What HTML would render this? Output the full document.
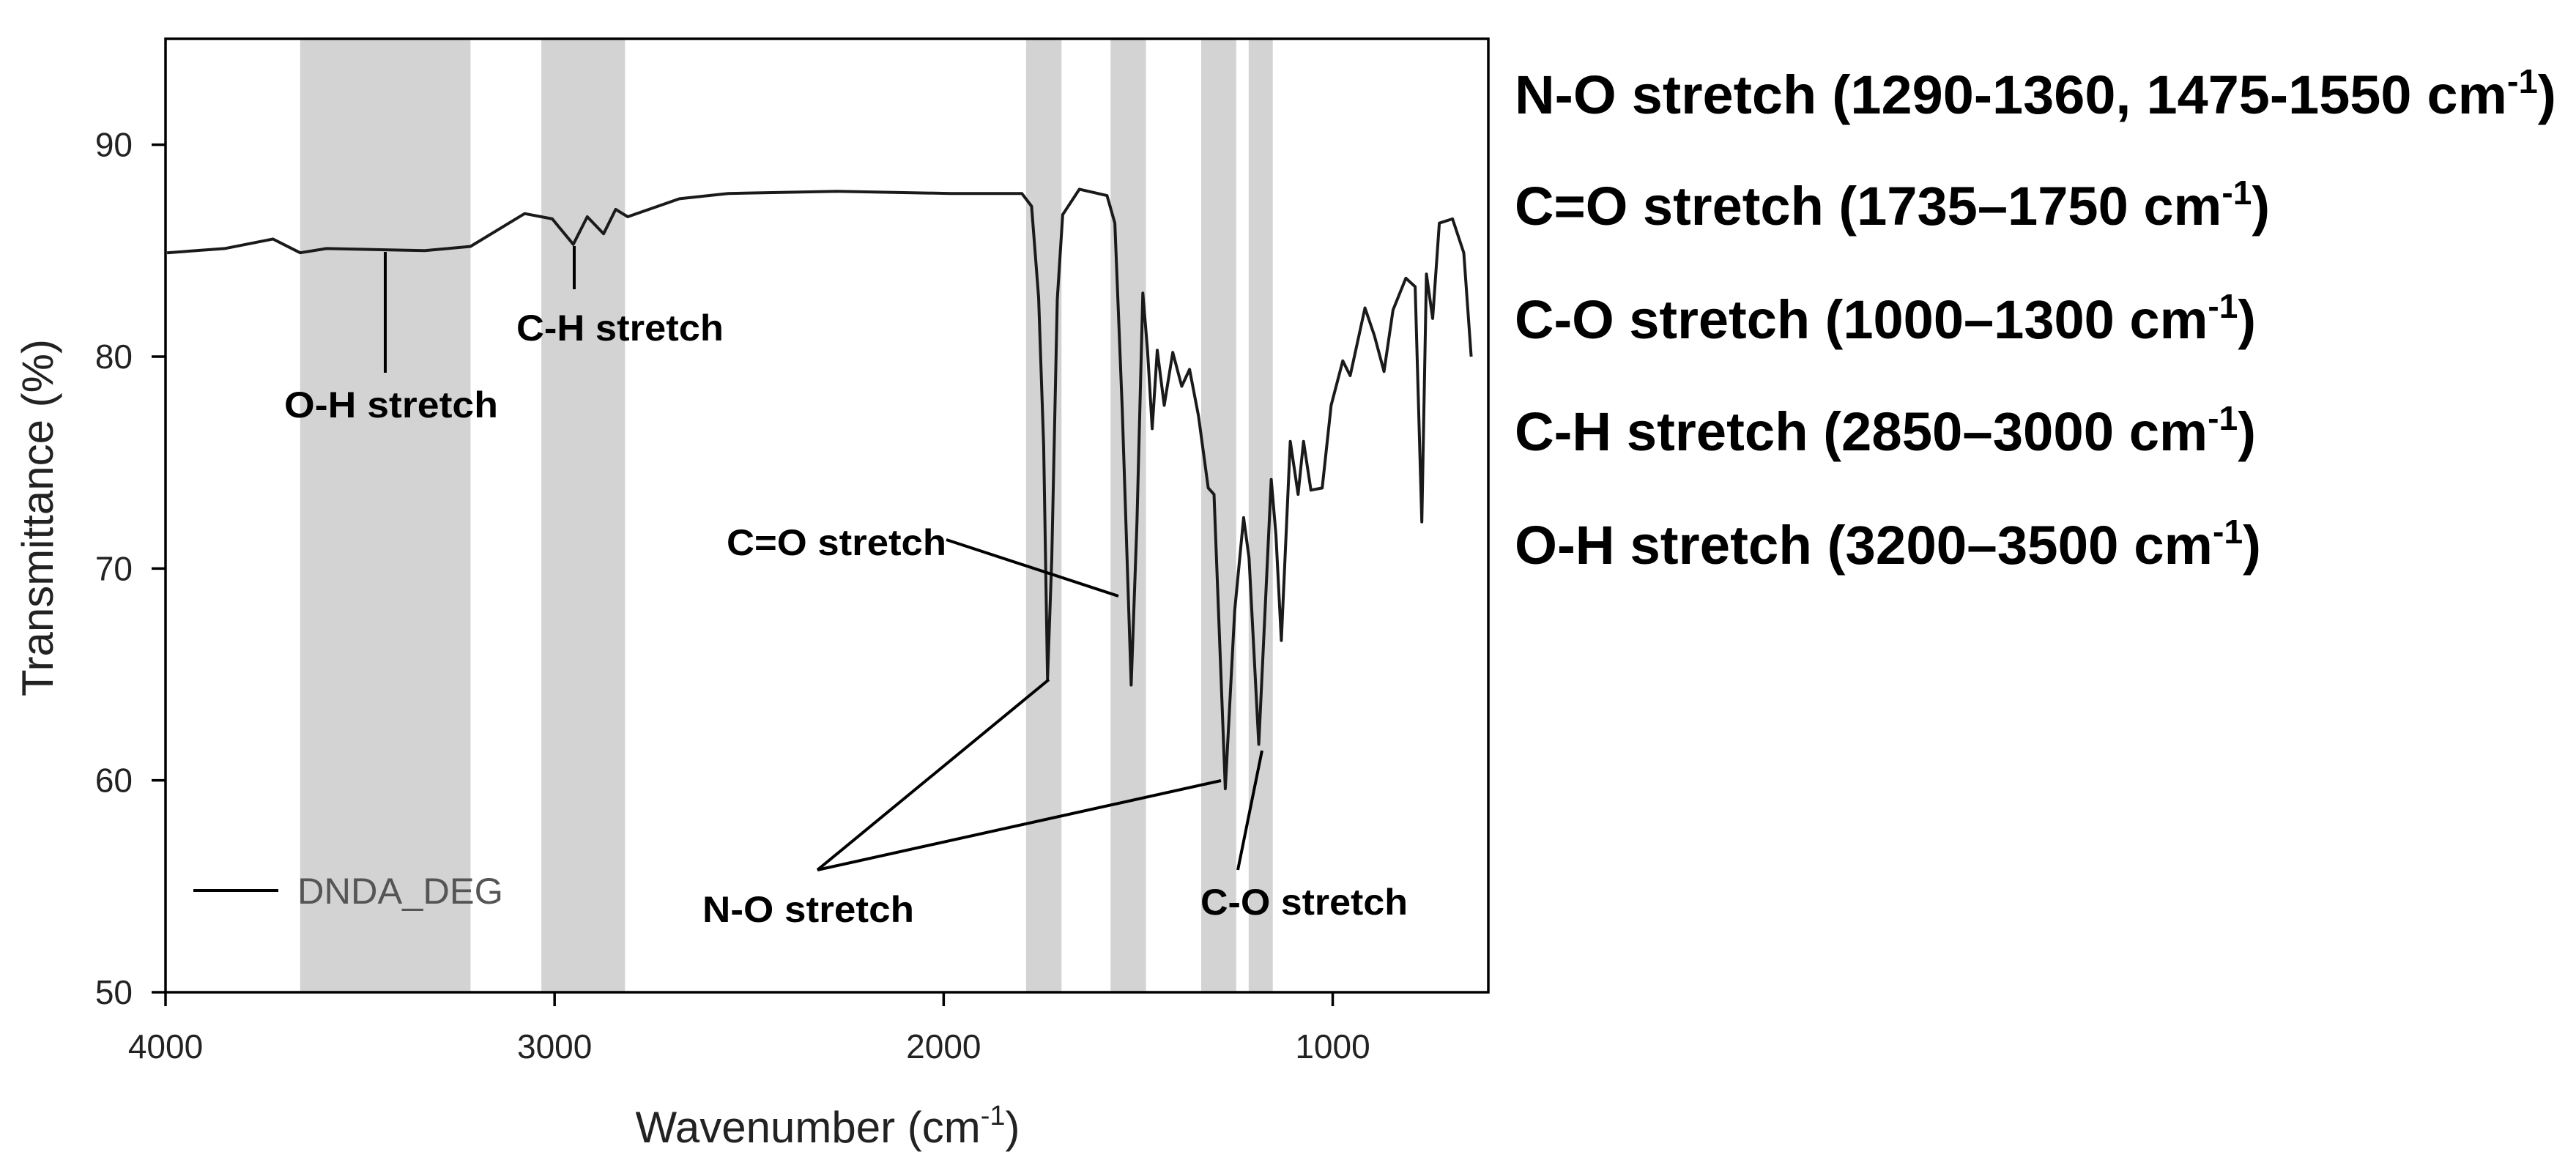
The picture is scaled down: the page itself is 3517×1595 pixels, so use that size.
<!DOCTYPE html>
<html><head><meta charset="utf-8"><style>
html,body{margin:0;padding:0;background:#fff;}
svg{display:block;}
text{font-family:"Liberation Sans",sans-serif;}
</style></head><body>
<svg id="chart" width="3517" height="1595" viewBox="0 0 3517 1595" xmlns="http://www.w3.org/2000/svg">
<g id="bands"></g>
<g id="spectrum"></g>
<g id="axes"></g>
<g id="annot">
  <line x1="526" y1="344" x2="526" y2="509" stroke="#000" stroke-width="4"/>
  <text x="388" y="570" font-size="50" font-weight="bold" textLength="292" lengthAdjust="spacingAndGlyphs">O-H stretch</text>
  <line x1="784" y1="336" x2="784" y2="395" stroke="#000" stroke-width="4"/>
  <text x="705" y="465" font-size="50" font-weight="bold" textLength="283" lengthAdjust="spacingAndGlyphs">C-H stretch</text>
  <text x="992" y="758" font-size="50" font-weight="bold" textLength="300" lengthAdjust="spacingAndGlyphs">C=O stretch</text>
  <line x1="1292" y1="737" x2="1527" y2="814" stroke="#000" stroke-width="4"/>
  <text x="959" y="1259" font-size="50" font-weight="bold" textLength="289" lengthAdjust="spacingAndGlyphs">N-O stretch</text>
  <line x1="1116" y1="1188" x2="1432" y2="928" stroke="#000" stroke-width="4"/>
  <line x1="1116" y1="1188" x2="1667" y2="1066" stroke="#000" stroke-width="4"/>
  <text x="1639" y="1249" font-size="50" font-weight="bold" textLength="283" lengthAdjust="spacingAndGlyphs">C-O stretch</text>
  <line x1="1690" y1="1188" x2="1723" y2="1025" stroke="#000" stroke-width="4"/>
</g>
<g>
  <line x1="264" y1="1216" x2="380" y2="1216" stroke="#000" stroke-width="4"/>
  <text x="406" y="1234" font-size="50" fill="#555" textLength="281" lengthAdjust="spacingAndGlyphs">DNDA_DEG</text>
</g>
<g font-weight="bold" font-size="74">
  <text x="2068" y="155" textLength="1422" lengthAdjust="spacingAndGlyphs">N-O stretch (1290-1360,  1475-1550  cm<tspan font-size="46" dy="-28">-1</tspan><tspan dy="28">)</tspan></text>
  <text x="2068" y="307" textLength="1031" lengthAdjust="spacingAndGlyphs">C=O stretch (1735–1750  cm<tspan font-size="46" dy="-28">-1</tspan><tspan dy="28">)</tspan></text>
  <text x="2068" y="462" textLength="1012" lengthAdjust="spacingAndGlyphs">C-O stretch (1000–1300  cm<tspan font-size="46" dy="-28">-1</tspan><tspan dy="28">)</tspan></text>
  <text x="2068" y="615" textLength="1012" lengthAdjust="spacingAndGlyphs">C-H stretch (2850–3000  cm<tspan font-size="46" dy="-28">-1</tspan><tspan dy="28">)</tspan></text>
  <text x="2068" y="770" textLength="1019" lengthAdjust="spacingAndGlyphs">O-H stretch (3200–3500  cm<tspan font-size="46" dy="-28">-1</tspan><tspan dy="28">)</tspan></text>
</g>
</svg>
<script>
const wavenumbers = [3996,3848,3724,3654,3586,3334,3216,3077,3006,2952,2916,2874,2843,2812,2679,2554,2274,1981,1799,1774,1756,1743,1733,1722,1708,1694,1651,1580,1560,1541,1518,1503,1488,1476,1464,1451,1433,1411,1388,1368,1345,1320,1305,1276,1252,1229,1215,1190,1158,1146,1132,1109,1089,1075,1056,1027,1004,974,955,917,893,868,845,812,788,771,759,743,726,692,663,644];
const transmittance = [84.9,85.1,85.55,84.9,85.1,85.0,85.2,86.75,86.5,85.3,86.6,85.8,86.95,86.6,87.45,87.7,87.8,87.7,87.7,87.1,82.8,75.8,64.8,70.5,82.7,86.7,87.9,87.6,86.3,77.5,64.5,72.2,83.0,80.3,76.6,80.3,77.7,80.2,78.6,79.4,77.2,73.8,73.5,59.6,68.0,72.4,70.5,61.7,74.2,71.6,66.6,76.0,73.5,76.0,73.7,73.8,77.7,79.8,79.1,82.3,81.0,79.3,82.2,83.7,83.3,72.2,83.9,81.8,86.3,86.5,84.9,80.0];
const bandStarts = [3654,3034,1788,1571,1338,1216];
const bandEnds = [3216,2819,1697,1480,1248,1154];
const yTicks = [50,60,70,80,90];
const xTicks = [4000,3000,2000,1000];

const NS='http://www.w3.org/2000/svg';
const X0=226, X1=2032, Y0=1355, Y1=53, WMAX=4000, WMIN=600, TMIN=50, TMAX=95;
function xs(w){return X0+(WMAX-w)/(WMAX-WMIN)*(X1-X0);}
function ys(t){return Y0-(t-TMIN)/(TMAX-TMIN)*(Y0-Y1);}
function mk(tag,attrs,parent){const e=document.createElementNS(NS,tag);for(const k in attrs)e.setAttribute(k,attrs[k]);parent.appendChild(e);return e;}

const bands=document.getElementById('bands');
for(let i=0;i<bandStarts.length;i++){
  const a=xs(bandStarts[i]), b=xs(bandEnds[i]);
  const r=mk('rect',{x:a,y:Y1,width:b-a,height:Y0-Y1,fill:'#d3d3d3'},bands);
  
  
}

const sp=document.getElementById('spectrum');
let d='';
for(let i=0;i<wavenumbers.length;i++){d+=(i?'L':'M')+xs(wavenumbers[i]).toFixed(1)+' '+ys(transmittance[i]).toFixed(1);}
const p=mk('path',{d:d,fill:'none',stroke:'#1a1a1a','stroke-width':4,'stroke-linejoin':'round'},sp);



const ax=document.getElementById('axes');
const fr=mk('rect',{x:X0,y:Y1,width:X1-X0,height:Y0-Y1,fill:'none',stroke:'#000','stroke-width':3.5},ax);


yTicks.forEach(t=>{
  const y=ys(t);
  const l=mk('line',{x1:X0-19,x2:X0,y1:y,y2:y,stroke:'#000','stroke-width':3.5},ax);
  
  
  const tx=mk('text',{x:181,y:y+16,'font-size':46,'text-anchor':'end',fill:'#222'},ax);
  tx.textContent=t;
  
  
});
xTicks.forEach(t=>{
  const x=xs(t);
  const l=mk('line',{x1:x,x2:x,y1:Y0,y2:Y0+19,stroke:'#000','stroke-width':3.5},ax);
  
  
  const tx=mk('text',{x:x,y:1445,'font-size':46,'text-anchor':'middle',fill:'#222'},ax);
  tx.textContent=t;
  
  
});
const xt=mk('text',{x:1130,y:1560,'font-size':60,'text-anchor':'middle',fill:'#222'},ax);
xt.innerHTML='Wavenumber (cm<tspan font-size="38" dy="-24">-1</tspan><tspan dy="24">)</tspan>';


const yt=mk('text',{x:0,y:0,'font-size':60,'text-anchor':'middle',fill:'#222',transform:'translate(72,707) rotate(-90)'},ax);
yt.textContent='Transmittance (%)';


</script>
</body></html>
